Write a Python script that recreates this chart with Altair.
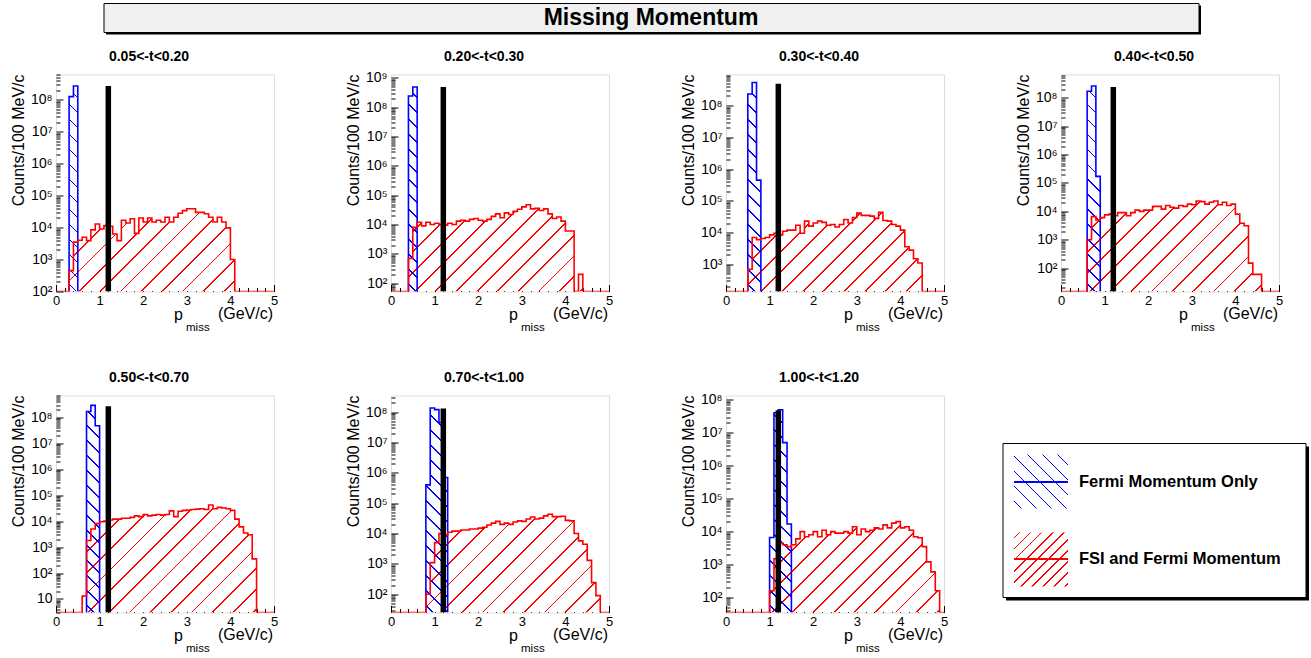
import math
import altair as alt
import pandas as pd

# ---------------- data ----------------
MAIN_TITLE = "Missing Momentum"
PANEL_TITLES = ["0.05<-t<0.20", "0.20<-t<0.30", "0.30<-t<0.40", "0.40<-t<0.50",
                "0.50<-t<0.70", "0.70<-t<1.00", "1.00<-t<1.20"]
Y_TITLE = "Counts/100 MeV/c"
X_TITLE_MAIN = "p"
X_TITLE_SUB = "miss"
X_TITLE_UNIT = "(GeV/c)"
LEGEND_LABELS = ["Fermi Momentum Only", "FSI and Fermi Momentum"]

X_TICKS = [0, 1, 2, 3, 4, 5]
Y_MIN = [100, 52, 140, 15, 3, 25, 35]
Y_MAX = [6.2e8, 1.3e9, 9.5e8, 6.6e8, 7e8, 3.5e8, 1.35e8]

BIN = 0.1
BLUE_START = [0.3, 0.4, 0.5, 0.6, 0.7, 0.8, 1.0]
BLUE_VALS = [
    [1.26e8, 2.7e8],
    [2.4e8, 4.9e8],
    [2.3e8, 5.3e8, 4.5e5],
    [1.7e8, 2.6e8, 1.7e5],
    [1.7e8, 2.9e8, 4.8e7],
    [4e5, 1.35e8, 1.2e8, 4.5e7, 7e5],
    [6.6e3, 4e7, 5e7, 5e6, 1.7e4],
]

RED_START = [0.3, 0.4, 0.5, 0.6, 0.6, 0.8, 1.0]
RED_VALS = [
    [4.5e2, 3.5e3, 4e3, 5e3, 3.9e3, 8.5e3, 1.3e4, 9e3, 1.15e4, 1.1e4,
     6.3e3, 3.9e3, 1.7e4, 1.4e4, 1.9e4, 6.6e3, 2e4, 1.5e4, 2e4, 1.5e4,
     1.7e4, 1.5e4, 2.1e4, 1.5e4, 2.1e4, 2.8e4, 3.4e4, 3.9e4, 3.9e4, 3e4,
     3e4, 2.7e4, 2.1e4, 1.5e4, 2.1e4, 1.5e4, 9.8e3, 1e3],
    [7e2, 8e3, 1.2e4, 9e3, 1.2e4, 1e4, 1.1e4, 1e4, 9.5e3, 1.1e4,
     1e4, 1.3e4, 1.4e4, 1.3e4, 1.5e4, 1.6e4, 1.4e4, 1.3e4, 1.5e4, 1.9e4,
     2.3e4, 1.7e4, 2.5e4, 2.2e4, 2.8e4, 3.3e4, 4e4, 4.7e4, 3.4e4, 3.6e4,
     3e4, 3.4e4, 2.3e4, 1.6e4, 1.8e4, 1.3e4, 6e3, 6e3, 0, 2e2],
    [7e2, 7e3, 6e3, 6.5e3, 7e3, 8.5e3, 9.6e3, 8.5e3, 1.1e4, 1.2e4,
     1.2e4, 1.7e4, 9.6e3, 2.3e4, 1.6e4, 2e4, 2.3e4, 2.1e4, 1.7e4, 1.8e4,
     1.5e4, 1.8e4, 2.6e4, 2e4, 3e4, 4.1e4, 3.5e4, 3.5e4, 3.3e4, 2.8e4,
     4.4e4, 2.4e4, 2.3e4, 1.8e4, 1.6e4, 1.2e4, 3.6e3, 2.8e3, 1.5e3, 1.1e3],
    [1e3, 6.5e3, 5e3, 6e3, 7.5e3, 8e3, 7e3, 9e3, 9e3, 7e3,
     9e3, 1.1e4, 1e4, 1.1e4, 1.1e4, 1.5e4, 1.5e4, 1.2e4, 1.6e4, 1.4e4,
     1.3e4, 1.6e4, 1.5e4, 1.8e4, 1.7e4, 2.3e4, 2.2e4, 1.8e4, 2.1e4, 2.3e4,
     1.7e4, 2.1e4, 1.6e4, 1.8e4, 8e3, 3.8e3, 3.1e3, 1.5e2, 6e1, 6e1],
    [13, 1.8e3, 5e3, 8e3, 9.5e3, 1e4, 1.1e4, 1.2e4, 1.2e4, 1.3e4,
     1.3e4, 1.4e4, 1.6e4, 1.5e4, 1.8e4, 1.6e4, 1.7e4, 1.8e4, 1.7e4, 1.8e4,
     2.5e4, 1.5e4, 2.4e4, 2.6e4, 2.7e4, 2.8e4, 2.9e4, 3e4, 2.8e4, 4.2e4,
     3e4, 3.4e4, 3.2e4, 3e4, 2.6e4, 1.2e4, 6e3, 3.5e3, 3e3, 3.5e2],
    [1e2, 1.1e3, 5e3, 1e4, 9e3, 1.1e4, 1.2e4, 1.2e4, 1.3e4, 1.3e4,
     1.4e4, 1.4e4, 1.5e4, 1.6e4, 1.9e4, 2.2e4, 2.5e4, 2e4, 2.2e4, 2e4,
     2.4e4, 2.6e4, 2.5e4, 3e4, 3.5e4, 3e4, 3.2e4, 3.8e4, 4.3e4, 3.6e4,
     3.6e4, 3.7e4, 2.7e4, 2.6e4, 1e4, 5.7e3, 4.4e3, 1.3e3, 2.4e2, 9e1],
    [1.6e2, 1.5e3, 4.5e3, 4e3, 3.5e3, 4e3, 6e3, 1e4, 7e3, 8e3,
     1e4, 7e3, 1.1e4, 8e3, 1e4, 9e3, 9e3, 1e4, 9e3, 1.4e4,
     8e3, 1.2e4, 1e4, 1.1e4, 1.3e4, 1.2e4, 1.6e4, 1.3e4, 1.8e4, 2e4,
     1.3e4, 1.4e4, 1.1e4, 7e3, 6.5e3, 3.5e3, 1.2e3, 6e2, 1.6e2],
]

CUT_X = 1.2
CUT_TOP = [2.7e8, 4.9e8, 4.9e8, 2.4e8, 2.7e8, 1.3e8, 4.8e7]

# ---------------- style / layout ----------------
FONT = "Liberation Sans"
PW, PH = 218, 217
COL_GAP, ROW_GAP = 117, 104
RED = (255, 0, 0)
BLUE = (0, 0, 255)
ONE = pd.DataFrame({"k": [0]})

SUP_EXPR = ("['1','10','10\u00b2','10\u00b3','10\u2074','10\u2075','10\u2076',"
            "'10\u2077','10\u2078','10\u2079'][round(log(datum.value)/LN10)]")


def ypix(v, lo, hi):
    return PH * (1 - (math.log10(v) - math.log10(lo)) / (math.log10(hi) - math.log10(lo)))


def hatch(rgb, wpx, hpx, spacing, slash, lw=1.3, opaque=False):
    r, g, b = rgb
    on = f"rgb({r},{g},{b})"
    off = "rgb(255,255,255)" if opaque else f"rgba({r},{g},{b},0.012)"
    wpx = max(wpx, 1.0)
    hpx = max(hpx, 1.0)
    L = (wpx + hpx) / math.sqrt(2)
    dt = spacing / L
    hw = lw / (2 * L)
    stops = []
    t = dt * 0.5
    while t + hw < 1:
        a, c = round(t - hw, 5), round(t + hw, 5)
        stops += [alt.GradientStop(color=off, offset=a), alt.GradientStop(color=on, offset=a),
                  alt.GradientStop(color=on, offset=c), alt.GradientStop(color=off, offset=c)]
        t += dt
    if not stops:
        stops = [alt.GradientStop(color=off, offset=0), alt.GradientStop(color=off, offset=1)]
    k = (wpx + hpx) / (wpx ** 2 + hpx ** 2)
    du, dv = wpx * k, hpx * k
    if slash:
        x1, y1, x2, y2 = 0, 0, du, dv
    else:
        x1, y1, x2, y2 = 0, 1, du, 1 - dv
    return alt.LinearGradient(gradient="linear", stops=stops, x1=x1, y1=y1, x2=x2, y2=y2)


def hist_frames(start, vals, lo, hi, along_axis=True):
    n = len(vals)
    xs = [round(start + i * BIN, 3) for i in range(n)]
    end = round(start + n * BIN, 3)
    vv = [v if v > 0 else lo for v in vals]
    area = pd.DataFrame({"x": xs + [end], "v": vv + [vv[-1]], "base": [lo] * (n + 1)})
    if along_axis:
        line = pd.DataFrame({"x": [0] + xs + [end, 5], "v": [lo] + vv + [lo, lo]})
    else:
        line = pd.DataFrame({"x": [start] + xs + [end], "v": [lo] + vv + [lo]})
    return area, line, n * BIN / 5 * PW, PH - ypix(max(vv), lo, hi)


def text(t, x, y, size, weight="normal", align="left", baseline="middle", angle=0, color="black"):
    kw = dict(text=t, font=FONT, fontSize=size, fontWeight=weight, align=align,
              baseline=baseline, color=color)
    if angle:
        kw["angle"] = angle
    return alt.Chart(ONE).mark_text(**kw).encode(x=alt.value(x), y=alt.value(y))


def box(x1, y1, x2, y2, fill, stroke=None, sw=1):
    kw = dict(fill=fill)
    if stroke:
        kw.update(stroke=stroke, strokeWidth=sw)
    return alt.Chart(ONE).mark_rect(**kw).encode(
        x=alt.value(x1), x2=alt.value(x2), y=alt.value(y1), y2=alt.value(y2))


def no_axis_kw():
    return dict(domain=False, grid=False, labels=False, title=None, tickColor="black", tickWidth=1)


def panel(i, extra=None):
    lo, hi = Y_MIN[i], Y_MAX[i]
    xs = alt.Scale(domain=[0, 5], nice=False, zero=False)
    ys = alt.Scale(type="log", domain=[lo, hi], nice=False)
    decades = [10 ** k for k in range(0, 10) if lo <= 10 ** k <= hi]
    minors = [m * 10 ** k for k in range(0, 10) for m in range(2, 10) if lo <= m * 10 ** k <= hi]
    x_minor = [round(0.2 * k, 1) for k in range(26)]

    ax_x_lab = alt.Axis(values=X_TICKS, orient="bottom", tickSize=0, domain=False, grid=False,
                        labelFont=FONT, labelFontSize=13, labelPadding=3, labelFlush=False,
                        labelOverlap=False, title=None, labelColor="black", format="d")
    ax_y_lab = alt.Axis(values=decades, orient="left", tickSize=0, domain=False, grid=False,
                        labelExpr=SUP_EXPR, labelFont=FONT, labelFontSize=14, labelPadding=4,
                        labelFlush=False, labelOverlap=False, title=None, labelColor="black")
    ax_x_maj = alt.Axis(values=X_TICKS, orient="top", offset=-PH, tickSize=7, **no_axis_kw())
    ax_y_maj = alt.Axis(values=decades, orient="right", offset=-PW, tickSize=7, **no_axis_kw())
    ax_x_min = alt.Axis(values=x_minor, orient="top", offset=-PH, tickSize=4, **no_axis_kw())
    ax_y_min = alt.Axis(values=minors, orient="right", offset=-PW, tickSize=4, **no_axis_kw())

    b_area, b_line, bw, bh = hist_frames(BLUE_START[i], BLUE_VALS[i], lo, hi, along_axis=False)
    r_area, r_line, rw, rh = hist_frames(RED_START[i], RED_VALS[i], lo, hi)

    red_a = alt.Chart(r_area).mark_area(
        interpolate="step-after", fill=hatch(RED, rw, rh, 14.6, True, opaque=True),
        opacity=1, clip=True
    ).encode(x=alt.X("x:Q", scale=xs, axis=ax_x_lab), y=alt.Y("v:Q", scale=ys, axis=ax_y_lab),
             y2="base:Q")
    blue_a = alt.Chart(b_area).mark_area(
        interpolate="step-after", fill=hatch(BLUE, bw, bh, 10.6, False), opacity=1, clip=True
    ).encode(x=alt.X("x:Q", scale=xs, axis=None), y=alt.Y("v:Q", scale=ys, axis=None),
             y2="base:Q")
    blue_l = alt.Chart(b_line).mark_line(
        interpolate="step-after", color="#0000ff", strokeWidth=1.6, clip=True
    ).encode(x=alt.X("x:Q", scale=xs, axis=ax_x_maj), y=alt.Y("v:Q", scale=ys, axis=ax_y_maj))
    red_l = alt.Chart(r_line).mark_line(
        interpolate="step-after", color="#ff0000", strokeWidth=1.6, clip=True
    ).encode(x=alt.X("x:Q", scale=xs, axis=ax_x_min), y=alt.Y("v:Q", scale=ys, axis=ax_y_min))
    cut = alt.Chart(pd.DataFrame({"x": [CUT_X], "lo": [lo], "top": [CUT_TOP[i]]})).mark_rule(
        color="black", strokeWidth=5.5, clip=True
    ).encode(x=alt.X("x:Q", scale=xs, axis=None), y=alt.Y("lo:Q", scale=ys, axis=None), y2="top:Q")

    layers = []
    if extra:
        layers += extra
    layers += [red_a, blue_a, blue_l, red_l, cut,
               text(PANEL_TITLES[i], 93, -18, 14, "bold", "center"),
               text(Y_TITLE, -37, 0, 16, "normal", "right", "middle", 270),
               text(X_TITLE_MAIN, 118, 245, 16, baseline="alphabetic"),
               text(X_TITLE_SUB, 130, 256, 11.5, baseline="alphabetic"),
               text(X_TITLE_UNIT, 217, 244, 16, align="right", baseline="alphabetic")]
    return alt.layer(*layers).resolve_scale(x="independent", y="independent").properties(
        width=PW, height=PH)


# main title box (drawn in the first panel's coordinate frame)
title_layers = [
    box(50, -69, 1145, -40, "#000000"),
    box(48, -71, 1143, -42, "#f0f0f0", "#000000", 1),
    text(MAIN_TITLE, 595, -56.5, 23, "bold", "center"),
]

# legend panel
sq = 54
legend = alt.layer(
    box(-55, 51, 248, 205, "#000000"),
    box(-58, 48, 245, 202, "#ffffff", "#000000", 1),
    alt.Chart(ONE).mark_rect(fill=hatch(BLUE, sq, sq, 10.6, False, opaque=True)).encode(
        x=alt.value(-47), x2=alt.value(7), y=alt.value(59), y2=alt.value(113)),
    alt.Chart(ONE).mark_rule(color="#0000ff", strokeWidth=2).encode(
        x=alt.value(-47), x2=alt.value(7), y=alt.value(86.5)),
    text(LEGEND_LABELS[0], 18, 86.5, 16.5, "bold"),
    alt.Chart(ONE).mark_rect(fill=hatch(RED, sq, sq, 7.8, True, opaque=True)).encode(
        x=alt.value(-47), x2=alt.value(7), y=alt.value(137), y2=alt.value(191)),
    alt.Chart(ONE).mark_rule(color="#ff0000", strokeWidth=2).encode(
        x=alt.value(-47), x2=alt.value(7), y=alt.value(163.5)),
    text(LEGEND_LABELS[1], 18, 163.5, 16.5, "bold"),
).properties(width=PW, height=PH, view=alt.ViewBackground(strokeOpacity=0))

charts = [panel(0, title_layers), panel(1), panel(2), panel(3),
          panel(4), panel(5), panel(6), legend]

chart = alt.concat(
    *charts, columns=4, spacing={"row": ROW_GAP, "column": COL_GAP}, bounds="flush"
).configure_view(
    stroke="black", strokeWidth=1
).configure(font=FONT).properties(
    padding={"left": 10, "top": 2.5, "right": 0, "bottom": 0}, background="white"
)

chart.save("out.html", embed_options={"renderer": "svg", "actions": False})
